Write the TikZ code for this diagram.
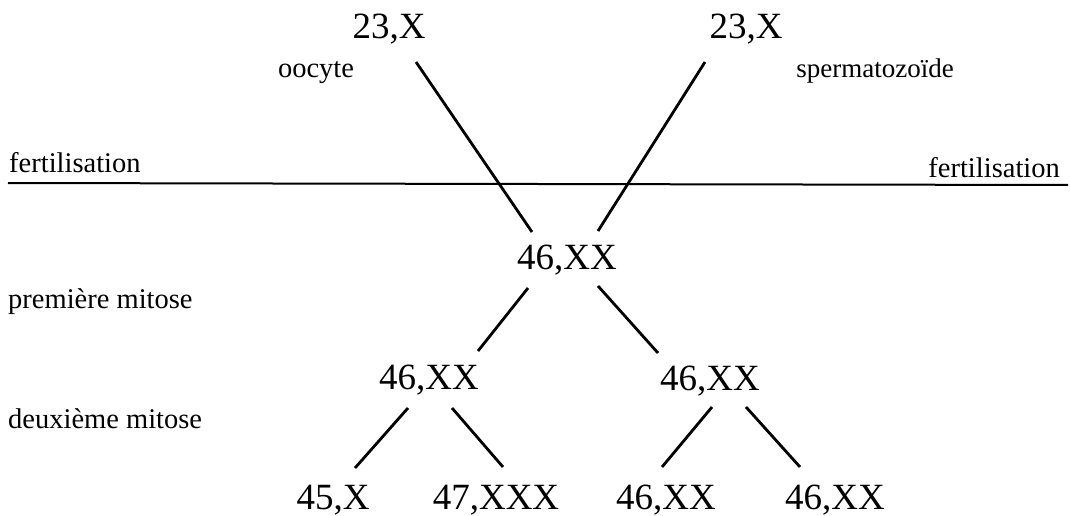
\documentclass[tikz,border=0pt]{standalone}
\usepackage{fontspec}
\setmainfont{Liberation Serif}
\begin{document}
\begin{tikzpicture}[x=1pt,y=-1pt,
  karyo/.style={anchor=base,inner sep=0pt,font=\fontsize{37}{40}\selectfont},
  lbl/.style={inner sep=0pt,font=\fontsize{28.5}{32}\selectfont},
  link/.style={line width=2.8pt,line cap=butt},
  rule/.style={line width=2pt}]
\useasboundingbox (0,0) rectangle (1070,516);
% karyotype nodes
\node[karyo] (t1) at (389,39) {23,X};
\node[karyo] (t2) at (746,39) {23,X};
\node[karyo] (z)  at (567,269) {46,XX};
\node[karyo] (m1) at (429,389) {46,XX};
\node[karyo] (m2) at (710,390) {46,XX};
\node[karyo] (b1) at (333,509) {45,X};
\node[karyo] (b2) at (496,509) {47,XXX};
\node[karyo] (b3) at (666,509) {46,XX};
\node[karyo] (b4) at (835,509) {46,XX};
% labels
\node[lbl,anchor=base] (oo) at (316,78) {oocyte};
\node[lbl,anchor=base,font=\fontsize{27}{30}\selectfont] (sp) at (875,78) {spermatozoïde};
\node[lbl,anchor=base west] (fl) at (9,172) {fertilisation};
\node[lbl,anchor=base east] (fr) at (1060,177) {fertilisation};
\node[lbl,anchor=base west] (pm) at (8,308) {première mitose};
\node[lbl,anchor=base west] (dm) at (8,428) {deuxième mitose};
% fertilisation rule
\coordinate (rl) at (8,183);
\coordinate (rr) at (1068,185);
\draw[rule] (rl) -- (rr);
% connectors
\draw[link] ([shift={(27,23)}]t1.base) -- ([shift={(-35,-37)}]z.base);
\draw[link] ([shift={(-41,23)}]t2.base) -- ([shift={(31,-38)}]z.base);
\draw[link] ([shift={(-39,19)}]z.base) -- ([shift={(49,-38)}]m1.base);
\draw[link] ([shift={(31,17)}]z.base) -- ([shift={(-52,-37)}]m2.base);
\draw[link] ([shift={(-21,19)}]m1.base) -- ([shift={(22,-41)}]b1.base);
\draw[link] ([shift={(23,19)}]m1.base) -- ([shift={(7,-42)}]b2.base);
\draw[link] ([shift={(2,17)}]m2.base) -- ([shift={(-4,-42)}]b3.base);
\draw[link] ([shift={(36,17)}]m2.base) -- ([shift={(-35,-42)}]b4.base);
\end{tikzpicture}
\end{document}
